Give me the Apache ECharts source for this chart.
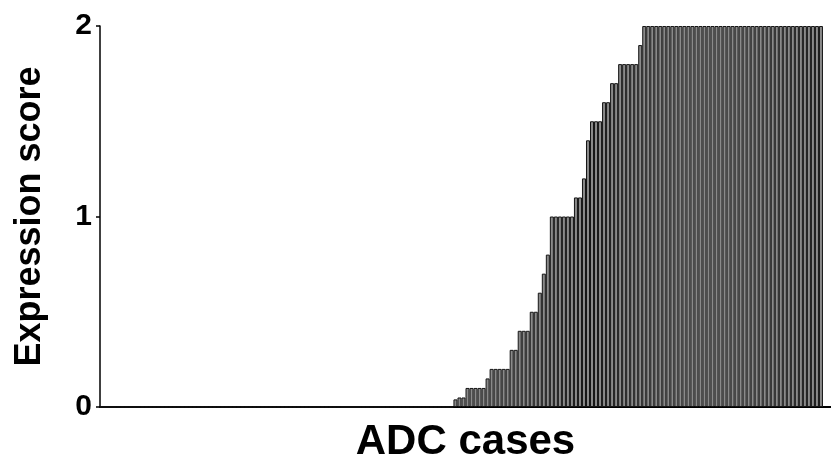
<!DOCTYPE html>
<html>
<head>
<meta charset="utf-8">
<script src="https://cdn.jsdelivr.net/npm/echarts@6/dist/echarts.min.js"></script>
<style>
html,body{margin:0;padding:0;background:#fff;}
#chart{width:831px;height:468px;}
</style>
</head>
<body>
<div id="chart"></div>
<script>
// Expression score per ADC case, sorted ascending
const scores = [
  0,0,0,0,0,0,0,0,0,0,0,0,0,0,0,0,0,0,0,0,0,0,
  0,0,0,0,0,0,0,0,0,0,0,0,0,0,0,0,0,0,0,0,0,0,
  0,0,0,0,0,0,0,0,0,0,0,0,0,0,0,0,0,0,0,0,0,0,
  0,0,0,0,0,0,0,0,0,0,0,0,0,0,0,0,0,0,0,0,0,0,
  0.04,0.05,0.05,0.1,0.1,0.1,0.1,0.1,0.15,0.2,0.2,0.2,0.2,0.2,
  0.3,0.3,0.4,0.4,0.4,0.5,0.5,0.6,0.7,0.8,
  1,1,1,1,1,1,1.1,1.1,1.2,1.4,1.5,1.5,1.5,1.6,1.6,1.7,1.7,
  1.8,1.8,1.8,1.8,1.8,1.9,
  2,2,2,2,2,2,2,2,2,2,2,2,2,2,2,2,2,2,2,2,2,2,2,
  2,2,2,2,2,2,2,2,2,2,2,2,2,2,2,2,2,2,2,2,2,2
];
const cases = scores.map((_, i) => 'Case ' + (i + 1));
const yTicks = [0, 1, 2];
const xTitle = 'ADC cases';
const yTitle = 'Expression score';

const chart = echarts.init(document.getElementById('chart'), null, {renderer: 'canvas'});
const font = 'Liberation Sans, Arial, sans-serif';
chart.setOption({
  animation: false,
  backgroundColor: '#ffffff',
  grid: {left: 100, right: 0, top: 26, bottom: 60, containLabel: false},
  xAxis: {
    type: 'category',
    data: cases,
    max: cases.length + 1,
    boundaryGap: true,
    axisTick: {show: false},
    axisLabel: {show: false},
    axisLine: {lineStyle: {color: '#000', width: 2}},
    name: xTitle,
    nameLocation: 'middle',
    nameGap: 14,
    nameTextStyle: {fontFamily: font, fontWeight: 'bold', fontSize: 42, color: '#000', verticalAlign: 'top'}
  },
  yAxis: {
    type: 'value',
    min: yTicks[0],
    max: yTicks[yTicks.length - 1],
    interval: 1,
    splitLine: {show: false},
    axisLine: {show: true, lineStyle: {color: '#000', width: 1.5}},
    axisTick: {show: true, length: 4, lineStyle: {color: '#000', width: 1.5}},
    axisLabel: {fontFamily: font, fontWeight: 'bold', fontSize: 30, color: '#000', margin: 8},
    name: yTitle,
    nameLocation: 'middle',
    nameGap: 52,
    nameTextStyle: {fontFamily: font, fontWeight: 'bold', fontSize: 36, color: '#000'}
  },
  series: [{
    type: 'bar',
    data: scores,
    barCategoryGap: '0%',
    itemStyle: {color: '#8a8a8a', borderColor: '#151515', borderWidth: 1}
  }]
});
</script>
</body>
</html>
